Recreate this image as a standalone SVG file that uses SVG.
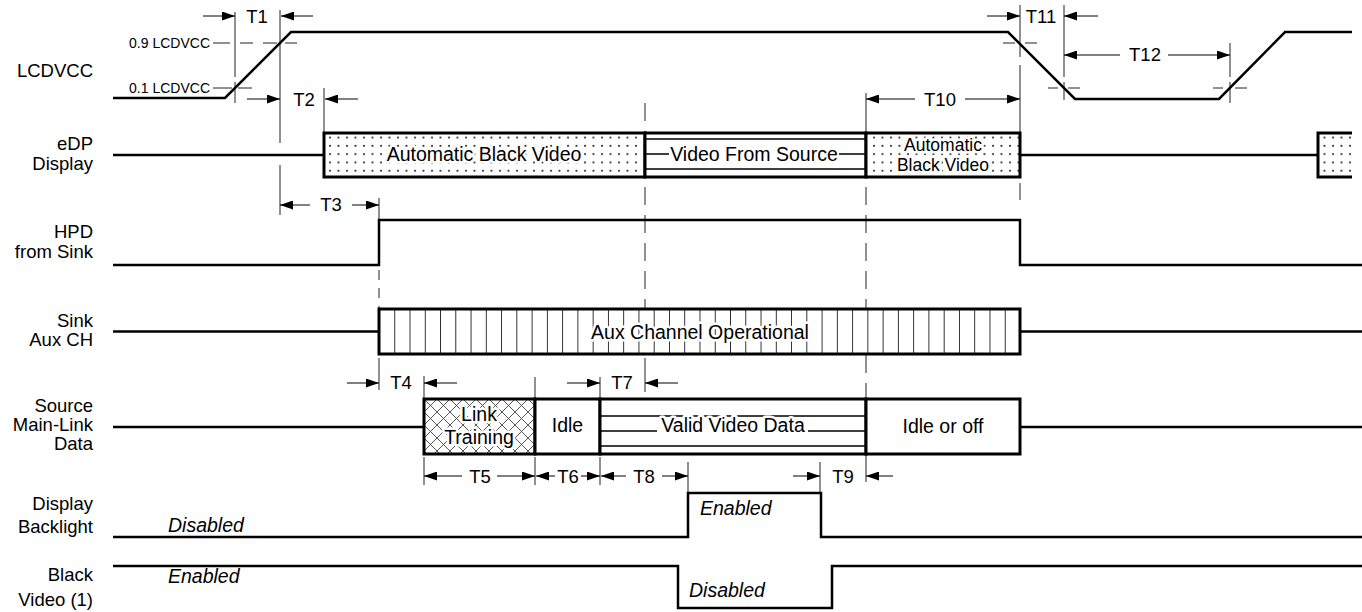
<svg xmlns="http://www.w3.org/2000/svg" width="1362" height="612" viewBox="0 0 1362 612">
<style>
.sig{fill:none;stroke:#000;stroke-width:2.5}
.box{stroke:#000;stroke-width:3}
.inner{stroke:#000;stroke-width:1.6;fill:none}
.guide{stroke:#222;stroke-width:1;fill:none}
.dash{stroke:#222;stroke-width:1;fill:none;stroke-dasharray:18 10}
.dim{stroke:#000;stroke-width:1;fill:none;marker-end:url(#ah)}
text{font-family:"Liberation Sans",Arial,Helvetica,sans-serif;fill:#000}
.lbl{font-size:18.5px;text-anchor:end}
.small{font-size:14px;text-anchor:end}
.t{font-size:18.5px;text-anchor:middle}
.bt{font-size:19.5px;text-anchor:middle}
.bt2{font-size:17.5px;text-anchor:middle}
.it{font-size:19.5px;font-style:italic}
.halo{paint-order:stroke;stroke:#fff;stroke-width:5;stroke-linejoin:round}
</style>
<defs>
<marker id="ah" markerUnits="userSpaceOnUse" markerWidth="13" markerHeight="9" refX="13" refY="4.5" orient="auto"><path d="M0,0 L13,4.5 L0,9 z" fill="#000"/></marker>
<pattern id="dots" patternUnits="userSpaceOnUse" width="8.5" height="8.3" x="328" y="133"><circle cx="2" cy="4.5" r="1" fill="#222"/></pattern>
<pattern id="stripes" patternUnits="userSpaceOnUse" width="15.262" height="60" x="379" y="0"><line x1="0" y1="0" x2="0" y2="60" stroke="#000" stroke-width="1.6"/></pattern>
<pattern id="xhatch" patternUnits="userSpaceOnUse" width="13" height="13" x="424" y="399"><path d="M0,0 L13,13 M13,0 L0,13" stroke="#444" stroke-width="0.9" fill="none"/></pattern>
</defs>
<rect width="1362" height="612" fill="#fff"/>

<g id="guides">
<path class="guide" d="M235,12V77M235,82V103M280,10V143M280,165V215M324,88V133M379,198V220M379,358V390M866,93V133M866,455V482M1020,5V57M1020,65V133M1020,183V200M1064,5V77M1064,82V100M1230,43V77M1230,82V103M424,376V399M424,457V485M535,377V399M535,457V485M600,377V399M600,457V485M645,358V392M688,462V493M820,462V493"/>
<path class="dash" d="M645,103V309M866,187V399"/>
<path class="guide" stroke-dasharray="10 8" d="M379,270V309"/>
<path class="guide" d="M213,43H230M240,43H253M263,43H277M285,43H297M213,88H232M238,88H252M1003,43H1015M1025,43H1037M1048,88H1058M1068,88H1080M1213,88H1223M1235,88H1247"/>
</g>

<g id="lcdvcc">
<text class="lbl" x="93" y="77">LCDVCC</text>
<text class="small" x="210" y="48">0.9 LCDVCC</text>
<text class="small" x="210" y="93">0.1 LCDVCC</text>
<polyline class="sig" points="113,98 225,98 291,32 1008,32 1075,99 1219,99 1285,32 1352,32"/>
</g>

<g id="edp">
<text class="lbl" x="93" y="150">eDP</text>
<text class="lbl" x="93" y="170">Display</text>
<path class="sig" d="M113,155H324M1020,155H1318"/>
<rect x="324" y="133" width="321" height="44" fill="#fff"/>
<rect class="box" x="324" y="133" width="321" height="44" fill="url(#dots)"/>
<text class="bt halo" x="484" y="161">Automatic Black Video</text>
<rect class="box" x="645" y="133" width="221" height="44" fill="#fff"/>
<path class="inner" d="M645,139H866M645,169H866M645,154H669M839,154H866"/>
<text class="bt" x="754" y="161">Video From Source</text>
<rect x="866" y="133" width="154" height="44" fill="#fff"/>
<rect class="box" x="866" y="133" width="154" height="44" fill="url(#dots)"/>
<text class="bt2 halo" x="943" y="150.5">Automatic</text>
<text class="bt2 halo" x="943" y="170.5">Black Video</text>
<rect x="1318" y="133" width="34" height="44" fill="url(#dots)"/>
<path class="box" fill="none" d="M1352,133H1318V177H1352"/>
</g>

<g id="hpd">
<text class="lbl" x="93" y="238">HPD</text>
<text class="lbl" x="93" y="258">from Sink</text>
<polyline class="sig" points="113,265 379,265 379,220 1020,220 1020,265 1362,265"/>
</g>

<g id="aux">
<text class="lbl" x="93" y="327">Sink</text>
<text class="lbl" x="93" y="346">Aux CH</text>
<path class="sig" d="M113,331.5H379M1020,331.5H1362"/>
<rect x="379" y="309" width="641" height="45" fill="#fff"/>
<rect class="box" x="379" y="309" width="641" height="45" fill="url(#stripes)"/>
<text class="bt halo" x="700" y="338.5">Aux Channel Operational</text>
</g>

<g id="mainlink">
<text class="lbl" x="93" y="412">Source</text>
<text class="lbl" x="93" y="431">Main-Link</text>
<text class="lbl" x="93" y="450">Data</text>
<path class="sig" d="M113,427H424M1020,427H1362"/>
<rect x="424" y="399" width="111" height="55" fill="#fff"/>
<rect class="box" x="424" y="399" width="111" height="55" fill="url(#xhatch)"/>
<text class="bt halo" x="479" y="421">Link</text>
<text class="bt halo" x="479" y="444">Training</text>
<rect class="box" x="535" y="399" width="65" height="55" fill="#fff"/>
<text class="bt" x="567.5" y="432">Idle</text>
<rect class="box" x="600" y="399" width="266" height="55" fill="#fff"/>
<path class="inner" d="M600,416H866M600,446H866M600,431H657M808,431H866"/>
<text class="bt halo" x="733" y="432">Valid Video Data</text>
<rect class="box" x="866" y="399" width="154" height="55" fill="#fff"/>
<text class="bt" x="943" y="433">Idle or off</text>
</g>

<g id="backlight">
<text class="lbl" x="93" y="510">Display</text>
<text class="lbl" x="93" y="533">Backlight</text>
<polyline class="sig" points="113,537 688,537 688,493 821,493 821,537 1362,537"/>
<text class="it" x="168" y="532">Disabled</text>
<text class="it" x="700" y="515">Enabled</text>
</g>

<g id="blackvideo">
<text class="lbl" x="93" y="581">Black</text>
<text class="lbl" x="93" y="606">Video (1)</text>
<polyline class="sig" points="113,566 678,566 678,608 832,608 832,566 1362,566"/>
<text class="it" x="168" y="583">Enabled</text>
<text class="it" x="689" y="597">Disabled</text>
</g>

<g id="connectors">
<line class="dim" x1="203" y1="16" x2="235" y2="16"/><line class="dim" x1="313" y1="16" x2="281" y2="16"/>
<text class="t" x="257" y="23">T1</text>
<line class="dim" x1="247" y1="99" x2="280" y2="99"/><line class="dim" x1="358" y1="99" x2="325" y2="99"/>
<text class="t" x="304" y="106">T2</text>
<line class="dim" x1="310" y1="205" x2="280" y2="205"/><line class="dim" x1="352" y1="205" x2="379" y2="205"/>
<text class="t" x="331" y="211">T3</text>
<line class="dim" x1="347" y1="383" x2="379" y2="383"/><line class="dim" x1="457" y1="383" x2="424" y2="383"/>
<text class="t" x="401" y="389">T4</text>
<line class="dim" x1="567" y1="383" x2="600" y2="383"/><line class="dim" x1="678" y1="383" x2="645" y2="383"/>
<text class="t" x="622" y="389">T7</text>
<line class="dim" x1="462" y1="476" x2="424" y2="476"/><line class="dim" x1="497" y1="476" x2="535" y2="476"/>
<text class="t" x="480" y="483">T5</text>
<line class="dim" x1="555" y1="476" x2="536" y2="476"/><line class="dim" x1="581" y1="476" x2="600" y2="476"/>
<text class="t" x="568" y="483">T6</text>
<line class="dim" x1="626" y1="476" x2="601" y2="476"/><line class="dim" x1="662" y1="476" x2="688" y2="476"/>
<text class="t" x="644" y="483">T8</text>
<line class="dim" x1="793" y1="476" x2="820" y2="476"/><line class="dim" x1="893" y1="476" x2="866" y2="476"/>
<text class="t" x="843" y="483">T9</text>
<line class="dim" x1="915" y1="99" x2="866" y2="99"/><line class="dim" x1="965" y1="99" x2="1020" y2="99"/>
<text class="t" x="940" y="106">T10</text>
<line class="dim" x1="987" y1="16" x2="1020" y2="16"/><line class="dim" x1="1098" y1="16" x2="1064" y2="16"/>
<text class="t" x="1041" y="23">T11</text>
<line class="dim" x1="1120" y1="55" x2="1064" y2="55"/><line class="dim" x1="1168" y1="55" x2="1230" y2="55"/>
<text class="t" x="1145" y="61">T12</text>
</g>
</svg>
